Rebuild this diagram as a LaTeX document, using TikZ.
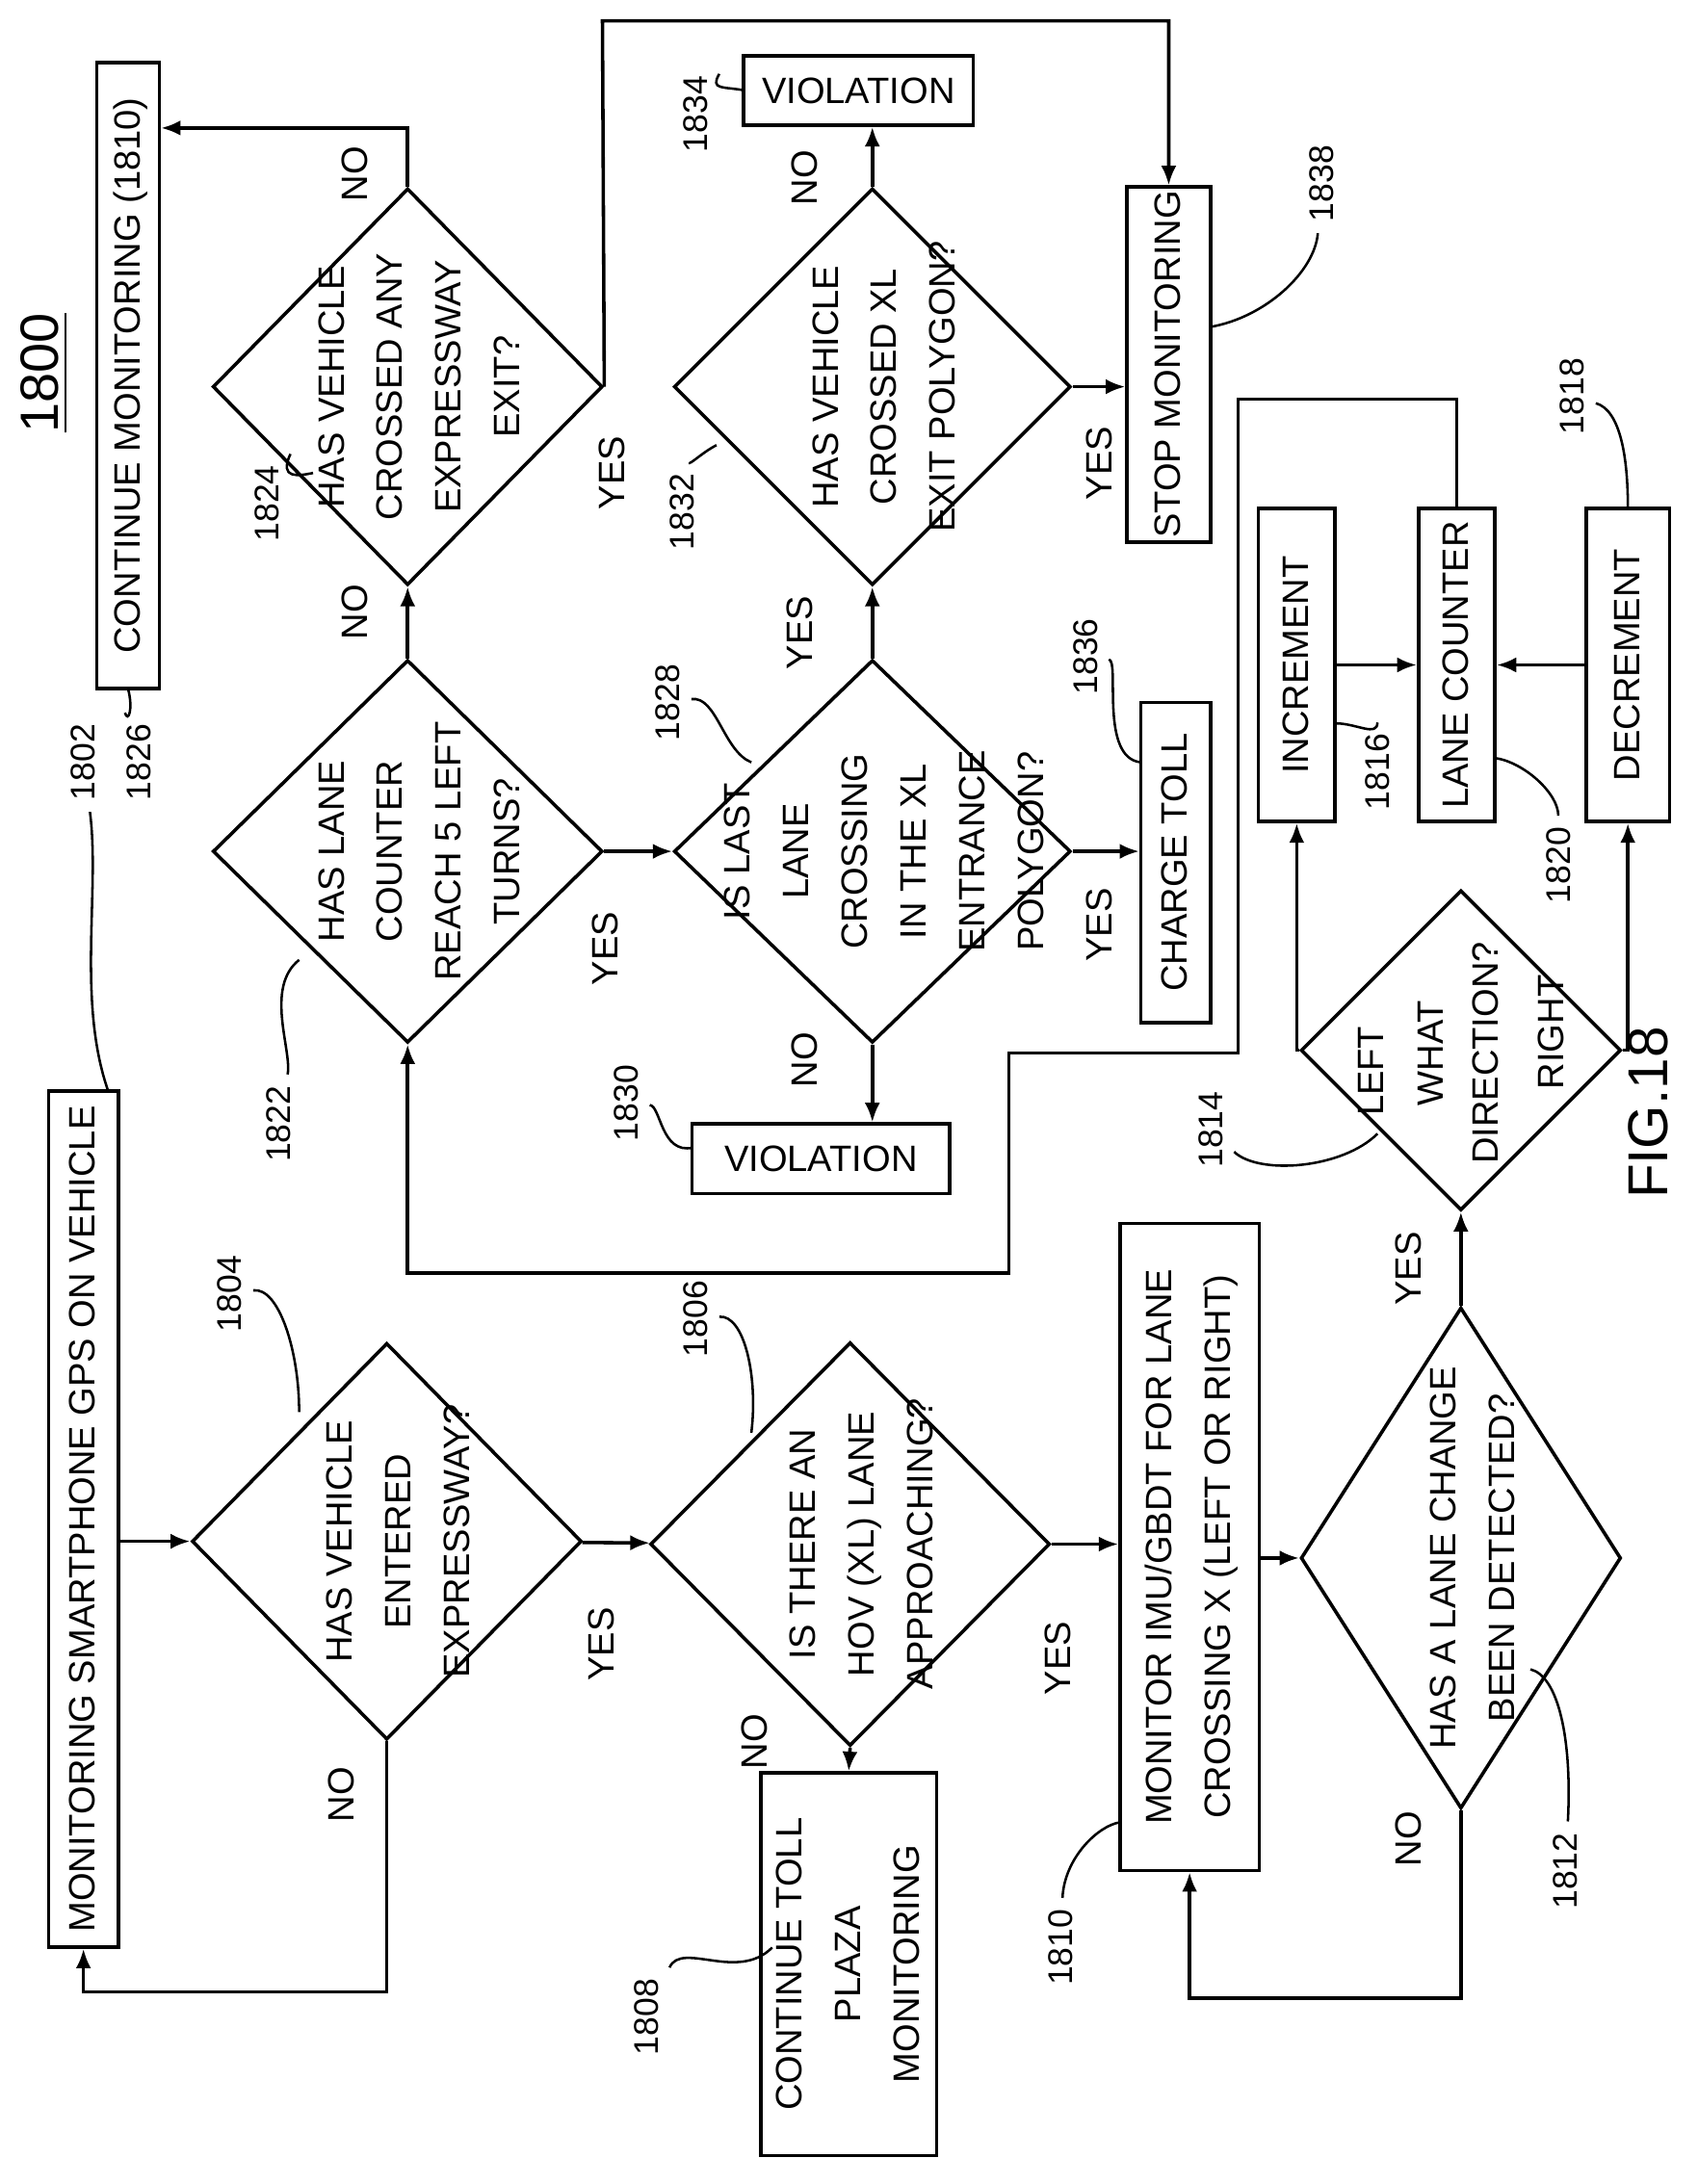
\documentclass[tikz,border=0pt]{standalone}
\usepackage{fontspec}
\setmainfont{Liberation Sans}
\usetikzlibrary{positioning,arrows.meta,shapes.geometric}
\newcommand{\rt}[1]{\rotatebox{90}{\begin{tabular}{@{}c@{}}#1\end{tabular}}}
\begin{document}
\begin{tikzpicture}[
    x=0.01cm, y=-0.01cm,
    >={Latex[length=1.4mm,width=1.1mm]},
    line width=0.7pt,
    font=\fontsize{7.5}{12}\selectfont,
    box/.style={rectangle, draw, inner sep=0pt},
    dec/.style={diamond, draw, inner sep=0pt, aspect=1},
    dtext/.style={xshift=0.09cm},
    ref/.style={font=\fontsize{7}{9}\selectfont, rotate=90, inner sep=2pt},
    lead/.style={line width=0.5pt},
    lbl/.style={rotate=90}
]
\useasboundingbox (0,0) rectangle (1220,1570);

% left column
\node[box, minimum width=0.5cm, minimum height=6.15cm] (gps) at (60,1092) {\rt{MONITORING SMARTPHONE GPS ON VEHICLE}};
\node[box, minimum width=0.45cm, minimum height=4.5cm] (cont) at (92,270) {\rt{CONTINUE MONITORING (1810)}};
\node[rotate=90, font=\fontsize{11}{14}\selectfont] (num) at (32,268) {\underline{1800}};

% decisions
\node[dec, minimum width=2.8cm, minimum height=2.85cm] (d1804) at (278,1108) {};
\node[dtext] at (d1804) {\rt{HAS VEHICLE\\ENTERED\\EXPRESSWAY?}};
\node[dec, minimum width=2.87cm, minimum height=2.9cm] (d1806) at (611,1110) {};
\node[dtext] at (d1806) {\rt{IS THERE AN\\HOV (XL) LANE\\APPROACHING?}};
\node[dec, minimum width=2.3cm, minimum height=3.6cm] (d1812) at (1050,1120) {};
\node[dtext] at (d1812) {\rt{HAS A LANE CHANGE\\BEEN DETECTED?}};
\node[dec, minimum width=2.3cm, minimum height=2.3cm] (d1814) at (1050,755) {};
\node[lbl] at (985,770) {LEFT};
\node[lbl] at (1028,757) {WHAT};
\node[lbl] at (1068,757) {DIRECTION?};
\node[lbl] at (1115,742) {RIGHT};
\node[dec, minimum width=2.8cm, minimum height=2.75cm] (d1822) at (293,612) {};
\node[dtext] at (d1822) {\rt{HAS LANE\\COUNTER\\REACH 5 LEFT\\TURNS?}};
\node[dec, minimum width=2.8cm, minimum height=2.85cm] (d1824) at (293,278) {};
\node[dtext] at (d1824) {\rt{HAS VEHICLE\\CROSSED ANY\\EXPRESSWAY\\EXIT?}};
\node[dec, minimum width=2.85cm, minimum height=2.75cm] (d1828) at (627,612) {};
\node[dtext] at (d1828) {\rt{IS LAST\\LANE\\CROSSING\\IN THE XL\\ENTRANCE\\POLYGON?}};
\node[dec, minimum width=2.85cm, minimum height=2.85cm] (d1832) at (627,278) {};
\node[dtext] at (d1832) {\rt{HAS VEHICLE\\CROSSED XL\\EXIT POLYGON?}};

% boxes
\node[box, minimum width=1.1cm, minimum height=2.75cm] (toll) at (610,1412) {\rt{CONTINUE TOLL\\PLAZA\\MONITORING}};
\node[box, minimum width=1.0cm, minimum height=4.65cm] (imu) at (855,1112) {\rt{MONITOR IMU/GBDT FOR LANE\\CROSSING X (LEFT OR RIGHT)}};
\node[box, minimum width=0.55cm, minimum height=2.25cm] (inc) at (932,478) {\rt{INCREMENT}};
\node[box, minimum width=0.55cm, minimum height=2.25cm] (cnt) at (1047,478) {\rt{LANE COUNTER}};
\node[box, minimum width=0.6cm, minimum height=2.25cm] (decr) at (1170,478) {\rt{DECREMENT}};
\node[box, minimum width=1.65cm, minimum height=0.5cm] (vio1) at (617,65) {VIOLATION};
\node[box, minimum width=1.85cm, minimum height=0.5cm] (vio2) at (590,833) {VIOLATION};
\node[box, minimum width=0.5cm, minimum height=2.3cm] (charge) at (845,620) {\rt{CHARGE TOLL}};
\node[box, minimum width=0.6cm, minimum height=2.55cm] (stop) at (840,262) {\rt{STOP MONITORING}};

% connectors
\draw[->] (gps.east |- d1804) -- (d1804);
\draw[->] (d1804.south) -- ++(0,180) -| (gps.south);
\draw[->] (d1804) -- (d1806);
\draw[->] (d1806.south) -- (toll.north);
\draw[->] (d1806) -- (imu.west |- d1806);
\draw[->] (imu.east |- d1812) -- (d1812);
\draw[->] (d1812.south) -- ++(0,135) -| (imu.south);
\draw[->] (d1812.north) -- (d1814.south);
\draw[->] (d1814.west) -| (inc.south);
\draw[->] (d1814.east) -| (decr.south);
\draw[->] (inc) -- (cnt);
\draw[->] (decr) -- (cnt);
\coordinate (bend) at (890,287);
\draw[->] (cnt.north) |- (bend) -- ++(0,470) -| (725,915) -| (d1822.south);
\draw[->] (d1822) -- (d1828);
\draw[->] (d1822.north) -- (d1824.south);
\draw[->] (d1824.north) |- (cont.east |- 0,92);
\coordinate (top) at (433,15);
\draw[->] (d1824.east) -- (top) -| (stop.north);
\draw[->] (d1828.south) -- (vio2.north -| d1828);
\draw[->] (d1828) -- (charge.west |- d1828);
\draw[->] (d1828.north) -- (d1832.south);
\draw[->] (d1832.north) -- (vio1.south -| d1832);
\draw[->] (d1832.east) -- (stop.west |- d1832);

% YES / NO
\node[lbl] at (245,1290) {NO};
\node[lbl] at (432,1182) {YES};
\node[lbl] at (542,1252) {NO};
\node[lbl] at (760,1192) {YES};
\node[lbl] at (1012,1322) {NO};
\node[lbl] at (1012,912) {YES};
\node[lbl] at (435,682) {YES};
\node[lbl] at (255,440) {NO};
\node[lbl] at (255,125) {NO};
\node[lbl] at (440,340) {YES};
\node[lbl] at (578,762) {NO};
\node[lbl] at (790,665) {YES};
\node[lbl] at (575,455) {YES};
\node[lbl] at (578,128) {NO};
\node[lbl] at (790,333) {YES};
\node[rotate=90, font=\fontsize{11.5}{14}\selectfont] (fig) at (1185,800) {FIG.18};

% reference numerals
\node[ref] (r1802) at (60,548) {1802};
\draw[lead] (r1802) .. controls (72,640) and (55,720) .. (78,785);
\node[ref] (r1826) at (100,548) {1826};
\draw[lead] (r1826) .. controls (92,520) and (96,510) .. (92,495);
\node[ref] (r1804) at (165,930) {1804};
\draw[lead] (r1804) .. controls (200,925) and (215,970) .. (215,1015);
\node[ref] (r1806) at (500,948) {1806};
\draw[lead] (r1806) .. controls (535,945) and (545,990) .. (540,1030);
\node[ref] (r1808) at (465,1450) {1808};
\draw[lead] (r1808) .. controls (490,1395) and (530,1425) .. (555,1400);
\node[ref] (r1810) at (762,1400) {1810};
\draw[lead] (r1810) .. controls (765,1335) and (790,1312) .. (805,1310);
\node[ref] (r1812) at (1125,1345) {1812};
\draw[lead] (r1812) .. controls (1130,1250) and (1120,1205) .. (1100,1200);
\node[ref] (r1814) at (870,812) {1814};
\draw[lead] (r1814) .. controls (905,845) and (965,840) .. (990,815);
\node[ref] (r1816) at (990,555) {1816};
\draw[lead] (r1816) .. controls (990,530) and (975,520) .. (960,520);
\node[ref] (r1818) at (1130,285) {1818};
\draw[lead] (r1818) .. controls (1165,295) and (1170,330) .. (1170,365);
\node[ref] (r1820) at (1120,622) {1820};
\draw[lead] (r1820) .. controls (1120,570) and (1095,548) .. (1075,545);
\node[ref] (r1822) at (200,808) {1822};
\draw[lead] (r1822) .. controls (210,755) and (190,710) .. (215,690);
\node[ref] (r1824) at (192,362) {1824};
\draw[lead] (r1824) .. controls (200,345) and (215,342) .. (225,340);
\node[ref] (r1828) at (480,505) {1828};
\draw[lead] (r1828) .. controls (515,500) and (520,540) .. (540,548);
\node[ref] (r1830) at (450,793) {1830};
\draw[lead] (r1830) .. controls (475,795) and (475,830) .. (498,825);
\node[ref] (r1832) at (490,368) {1832};
\draw[lead] (r1832) .. controls (495,335) and (505,325) .. (515,320);
\node[ref] (r1834) at (500,82) {1834};
\draw[lead] (r1834) .. controls (510,65) and (520,62) .. (535,65);
\node[ref] (r1836) at (780,472) {1836};
\draw[lead] (r1836) .. controls (805,475) and (790,545) .. (820,548);
\node[ref] (r1838) at (950,132) {1838};
\draw[lead] (r1838) .. controls (945,195) and (910,228) .. (870,235);
\end{tikzpicture}
\end{document}
